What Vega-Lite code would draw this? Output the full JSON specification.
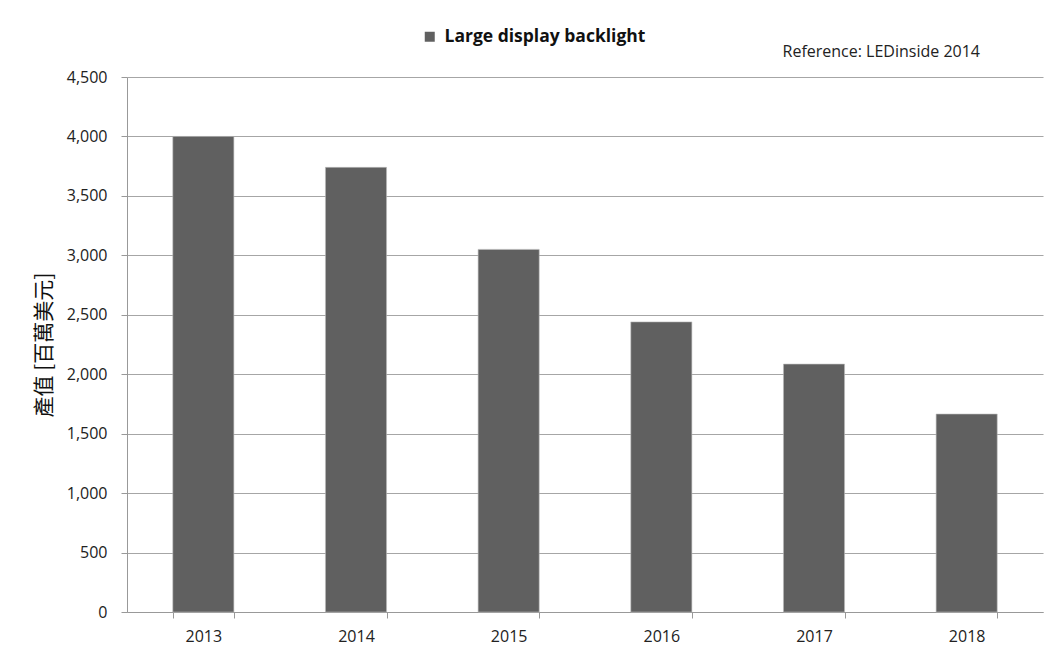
{
  "$schema": "https://vega.github.io/schema/vega-lite/v6.json",
  "autosize": "none",
  "width": 916,
  "height": 535,
  "padding": {"left": 127, "top": 77, "right": 19, "bottom": 45},
  "background": "white",
  "data": {"values": [
    {"year": "2013", "value": 4000, "series": "Large display backlight"},
    {"year": "2014", "value": 3740, "series": "Large display backlight"},
    {"year": "2015", "value": 3050, "series": "Large display backlight"},
    {"year": "2016", "value": 2440, "series": "Large display backlight"},
    {"year": "2017", "value": 2085, "series": "Large display backlight"},
    {"year": "2018", "value": 1665, "series": "Large display backlight"}
  ]},
  "title": {
    "text": "Reference: LEDinside 2014",
    "anchor": "end",
    "frame": "group",
    "dx": -63,
    "dy": 52,
    "offset": 20,
    "font": "Open Sans",
    "fontSize": 16,
    "fontWeight": "normal",
    "color": "#222222"
  },
  "mark": {"type": "bar", "stroke": "#bbbbbb", "strokeWidth": 0.6},
  "encoding": {
    "x": {
      "field": "year",
      "type": "nominal",
      "scale": {"paddingInner": 0.6, "paddingOuter": 0.3},
      "axis": {
        "title": null,
        "labelAngle": 0,
        "labelFont": "Open Sans",
        "labelFontSize": 16,
        "labelColor": "#222222",
        "labelPadding": 10,
        "tickBand": "extent",
        "tickSize": 6,
        "tickColor": "#999999",
        "domainColor": "#999999",
        "grid": false
      }
    },
    "y": {
      "field": "value",
      "type": "quantitative",
      "scale": {"domain": [0, 4500]},
      "axis": {
        "title": "產值 [百萬美元]",
        "titleFont": "Noto Sans CJK TC",
        "titleFontSize": 21,
        "titleFontWeight": "normal",
        "titleColor": "#111111",
        "titlePadding": 12,
        "values": [0, 500, 1000, 1500, 2000, 2500, 3000, 3500, 4000, 4500],
        "format": ",d",
        "labelFont": "Open Sans",
        "labelFontSize": 16,
        "labelColor": "#222222",
        "labelPadding": 14,
        "tickSize": 6,
        "tickColor": "#999999",
        "domainColor": "#999999",
        "gridColor": "#a6a6a6",
        "gridWidth": 1.2
      }
    },
    "color": {
      "field": "series",
      "type": "nominal",
      "scale": {"range": ["#606060"]},
      "legend": {
        "title": null,
        "orient": "none",
        "legendX": 294,
        "legendY": -49,
        "labelLimit": 0,
        "labelOffset": 6,
        "symbolType": "square",
        "symbolSize": 100,
        "symbolStrokeWidth": 0,
        "labelFont": "Open Sans",
        "labelFontSize": 17.5,
        "labelFontWeight": "bold",
        "labelColor": "#111111"
      }
    }
  },
  "config": {"view": {"stroke": null}}
}
